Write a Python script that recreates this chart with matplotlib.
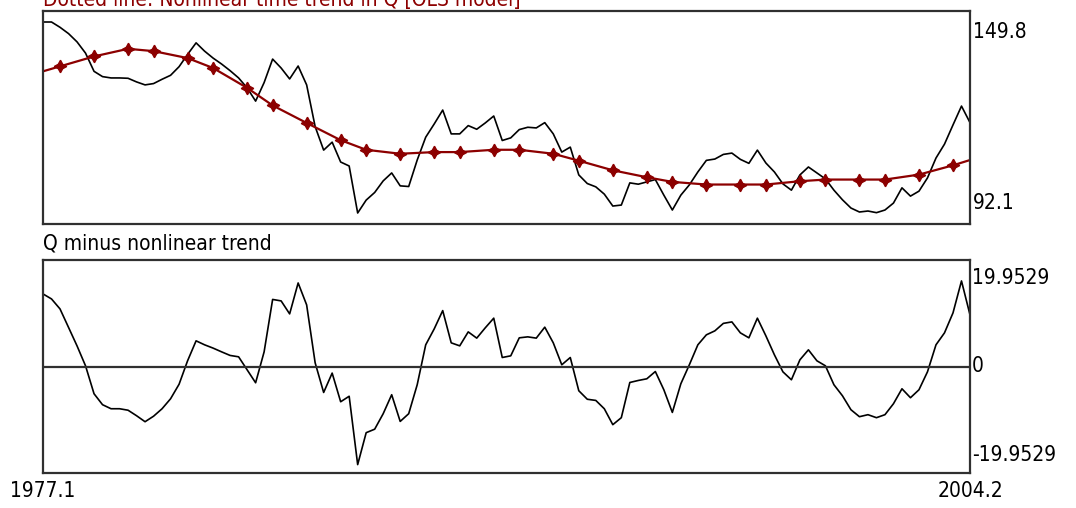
import matplotlib
matplotlib.use("Agg")
import matplotlib.pyplot as plt
import numpy as np

# === DADOS ===
ANO_INICIO = 1977          # primeiro trimestre: 1977.1

# Q trimestral, 1977.1 .. 2004.2
q_valores = [
    149.8, 149.8, 148.2, 146.3, 143.8, 140.4, 134.9, 133.3, 132.9, 132.9,
    132.8, 131.7, 130.8, 131.2, 132.5, 133.7, 136.3, 140.0, 143.5, 141.0,
    138.9, 137.1, 135.1, 132.9, 129.9, 125.9, 131.5, 138.6, 135.9, 132.6,
    136.5, 130.8, 118.2, 111.1, 113.5, 107.5, 106.3, 92.1, 96.0, 98.3,
    101.8, 104.2, 100.3, 100.1, 108.1, 115.0, 119.0, 123.2, 116.0, 116.0,
    118.5, 117.4, 119.3, 121.4, 114.0, 114.8, 117.3, 118.0, 117.8, 119.4,
    116.0, 110.5, 112.0, 103.6, 101.0, 100.0, 97.8, 94.2, 94.5, 101.2,
    100.8, 101.5, 102.2, 97.5, 93.0, 97.5, 100.6, 104.5, 108.0, 108.4,
    109.8, 110.2, 108.3, 107.1, 111.1, 107.2, 104.5, 100.9, 99.0, 103.6,
    106.0, 104.2, 102.4, 99.0, 96.1, 93.6, 92.4, 92.7, 92.2, 93.0,
    95.1, 99.7, 97.2, 98.7, 102.7, 108.7, 112.9, 118.7, 124.4, 119.4,
]

# tendencia nao linear (pontos marcados, indice do trimestre)
tend_trim = [0, 2, 6, 10, 13, 17, 20, 24, 27, 31, 35, 38, 42, 46, 49, 53,
             56, 60, 63, 67, 71, 74, 78, 82, 85, 89, 92, 96, 99, 103, 107, 109]
tend_valores = [134.9, 136.4, 139.4, 141.7, 141.0, 138.9, 135.9, 129.9,
                124.6, 119.3, 114.1, 111.2, 110.0, 110.5, 110.5, 111.2,
                111.2, 110.0, 107.9, 105.0, 102.9, 101.5, 100.7, 100.7,
                100.7, 101.7, 102.2, 102.2, 102.2, 103.7, 106.5, 108.1]

# Q menos tendencia
residuos = [
    14.76, 13.74, 11.71, 7.96, 4.20, 0.14, -5.54, -7.77, -8.59, -8.59,
    -8.89, -10.01, -11.23, -10.11, -8.59, -6.56, -3.61, 1.16, 5.22, 4.41,
    3.74, 2.98, 2.25, 1.97, -0.67, -3.31, 2.98, 13.64, 13.34, 10.70,
    16.99, 12.53, 0.75, -5.28, -1.34, -7.17, -6.05, -19.9529, -13.46, -12.75,
    -9.60, -5.74, -11.17, -9.60, -3.71, 4.41, 7.65, 11.37, 4.81, 4.20,
    7.04, 5.77, 7.86, 9.83, 1.83, 2.17, 5.83, 6.03, 5.77, 8.00,
    4.81, 0.35, 1.83, -4.93, -6.66, -6.90, -8.59, -11.83, -10.41, -3.25,
    -2.84, -2.50, -1.02, -4.73, -9.34, -3.51, 0.35, 4.41, 6.44, 7.25,
    8.77, 9.07, 6.84, 5.83, 9.83, 6.23, 2.38, -1.08, -2.70, 1.36,
    3.39, 1.16, 0.14, -3.71, -5.95, -8.79, -10.21, -9.80, -10.41, -9.80,
    -7.57, -4.53, -6.35, -4.73, -1.08, 4.41, 6.84, 10.90, 17.40, 10.50,
]

TITULO = "Dotted line: Nonlinear time trend in Q [OLS model]"
SUBTITULO = "Q minus nonlinear trend"

# === ESTILO ===
VERMELHO = "#8c0000"
MOLDURA = "#303030"
FONTE = dict(family="DejaVu Sans", stretch="condensed")

n = len(q_valores)
t = np.arange(n)
rotulos_x = [f"{ANO_INICIO + i // 4}.{i % 4 + 1}" for i in (0, n - 1)]

fig = plt.figure(figsize=(10.76, 5.08), dpi=100)
ax1 = fig.add_axes([43 / 1076, 1 - 224 / 508, 927 / 1076, 213 / 508])
ax2 = fig.add_axes([43 / 1076, 1 - 473 / 508, 927 / 1076, 213 / 508])

for ax in (ax1, ax2):
    for sp in ax.spines.values():
        sp.set_color(MOLDURA)
        sp.set_linewidth(1.6)
    ax.set_xlim(0, n - 1)
    ax.set_yticks([])
    ax.set_xticks([])

# --- painel de cima: Q e tendencia ---
ax1.plot(t, q_valores, color="black", lw=1.2)
ax1.plot(tend_trim, tend_valores, color=VERMELHO, lw=1.6,
         marker=(4, 1, 0), ms=9, mfc=VERMELHO, mec=VERMELHO,
         markevery=list(range(1, len(tend_trim) - 1)))
q_max, q_min = max(q_valores), min(q_valores)
folga = (q_max - q_min) * 0.0576
ax1.set_ylim(q_min - folga, q_max + folga)
tr1 = ax1.get_yaxis_transform()
ax1.text(1.003, q_max, f"{q_max:.1f}", transform=tr1, ha="left", va="top",
         fontsize=15, **FONTE)
ax1.text(1.003, q_min, f"{q_min:.1f}", transform=tr1, ha="left", va="bottom",
         fontsize=15, **FONTE)

fig.text(43 / 1076, 1 - 6 / 508, TITULO, color=VERMELHO, ha="left",
         va="baseline", fontsize=15, **FONTE)

# --- painel de baixo: residuos ---
ax2.plot(t, residuos, color="black", lw=1.2)
ax2.axhline(0, color=MOLDURA, lw=1.6)
lim = max(abs(v) for v in residuos)
ax2.set_ylim(-lim * 1.0855, lim * 1.0855)
tr2 = ax2.get_yaxis_transform()
ax2.text(1.002, lim, f"{lim:.4f}", transform=tr2, ha="left", va="top",
         fontsize=15, **FONTE)
ax2.text(1.002, 0, "0", transform=tr2, ha="left", va="center",
         fontsize=15, **FONTE)
ax2.text(1.002, -lim, f"{-lim:.4f}", transform=tr2, ha="left", va="bottom",
         fontsize=15, **FONTE)

fig.text(43 / 1076, 1 - 250 / 508, SUBTITULO, ha="left", va="baseline",
         fontsize=15, **FONTE)

ax2.set_xticks([0, n - 1], rotulos_x)
ax2.tick_params(axis="x", length=0, pad=6, labelsize=15)
for lb in ax2.get_xticklabels():
    lb.set_family(FONTE["family"])
    lb.set_stretch(FONTE["stretch"])

fig.savefig("out.png", dpi=100, facecolor="white")
